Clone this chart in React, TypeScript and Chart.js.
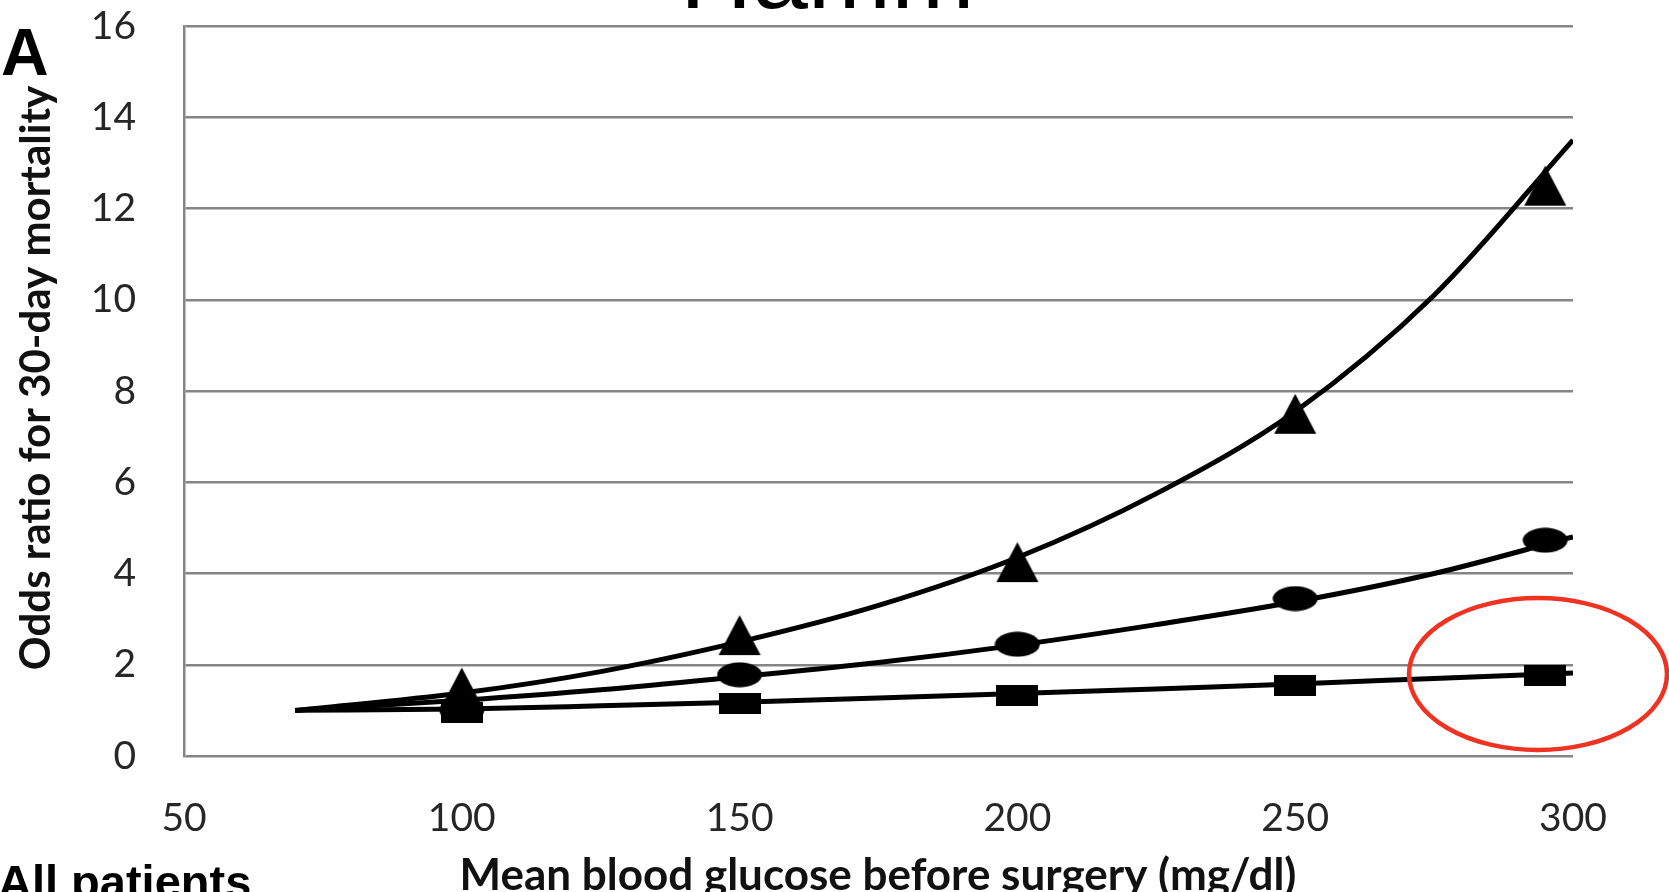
import React, { useEffect, useRef } from 'react';
import { Chart, registerables } from 'chart.js';

Chart.register(...registerables);

// Fitted odds-ratio curves, sampled along blood glucose (mg/dl)
const curveX = [70, 100, 125, 150, 175, 200, 225, 250, 275, 300];
const triangleCurve = [1.0, 1.38, 1.85, 2.5, 3.3, 4.35, 5.75, 7.55, 10.1, 13.5];
const circleCurve = [1.0, 1.22, 1.45, 1.74, 2.05, 2.43, 2.88, 3.38, 4.0, 4.8];
const squareCurve = [1.0, 1.03, 1.1, 1.18, 1.27, 1.37, 1.47, 1.58, 1.7, 1.82];

// Observed odds ratios at each glucose level
const markerX = [100, 150, 200, 250, 295];
const triangleMarks = [1.5, 2.65, 4.25, 7.5, 12.5];
const circleMarks = [1.0, 1.78, 2.45, 3.45, 4.73];
const squareMarks = [0.95, 1.15, 1.33, 1.55, 1.77];

const xTickValues = [50, 100, 150, 200, 250, 300];
const yTickValues = [0, 2, 4, 6, 8, 10, 12, 14, 16];

const yTitle = 'Odds ratio for 30-day mortality';
const xTitle = 'Mean blood glucose before surgery (mg/dl)';
const panelLabel = 'A';
const groupLabel = 'All patients';
const headerText = 'Hamm';

const W = 1669;
const H = 892;
const AREA_LEFT = 184;
const AREA_RIGHT = 1573;
const AREA_TOP = 26;
const AREA_BOTTOM = 756;

function makeMarker(kind: 'triangle' | 'ellipse' | 'rect'): HTMLCanvasElement {
  const c = document.createElement('canvas');
  const dims = { triangle: [44, 42], ellipse: [46, 26], rect: [42, 21] }[kind];
  c.width = dims[0];
  c.height = dims[1];
  const g = c.getContext('2d')!;
  g.fillStyle = '#000';
  g.beginPath();
  if (kind === 'triangle') {
    g.moveTo(dims[0] / 2, 1);
    g.lineTo(dims[0] - 1, dims[1] - 1);
    g.lineTo(1, dims[1] - 1);
    g.closePath();
  } else if (kind === 'ellipse') {
    g.ellipse(dims[0] / 2, dims[1] / 2, dims[0] / 2 - 0.5, dims[1] / 2 - 0.5, 0, 0, Math.PI * 2);
  } else {
    g.rect(0, 0, dims[0], dims[1]);
  }
  g.fill();
  return c;
}

const annotations = {
  id: 'annotations',
  afterDraw(chart: any) {
    const ctx = chart.ctx as CanvasRenderingContext2D;
    ctx.save();
    ctx.fillStyle = '#000';

    // panel letter
    ctx.font = 'bold 66px "Liberation Sans", Arial, sans-serif';
    ctx.textAlign = 'left';
    ctx.textBaseline = 'alphabetic';
    ctx.fillText(panelLabel, 1, 75);

    // heading running off the top edge
    ctx.font = '100px "Liberation Sans", Arial, sans-serif';
    ctx.fillText(headerText, 680, 8);

    // group caption running off the bottom edge
    ctx.font = 'bold 47px "Liberation Sans", Arial, sans-serif';
    ctx.fillText(groupLabel, -2, 898);

    // axis titles
    ctx.fillStyle = '#111';
    ctx.textAlign = 'center';
    ctx.textBaseline = 'middle';
    ctx.font = 'bold 44px Lato, "Open Sans", sans-serif';
    ctx.fillText(xTitle, 878, 876);

    ctx.save();
    ctx.font = 'bold 42px Lato, "Open Sans", sans-serif';
    ctx.translate(36, 378);
    ctx.rotate(-Math.PI / 2);
    ctx.fillText(yTitle, 0, 0);
    ctx.restore();

    // highlight ring around the last square marker
    ctx.strokeStyle = '#ee3322';
    ctx.lineWidth = 4.5;
    ctx.beginPath();
    ctx.ellipse(1538, 674, 129, 76, 0, 0, Math.PI * 2);
    ctx.stroke();

    ctx.restore();
  },
};

export default function App() {
  const ref = useRef<HTMLCanvasElement | null>(null);

  useEffect(() => {
    if (!ref.current) return;
    const tri = makeMarker('triangle');
    const ell = makeMarker('ellipse');
    const sq = makeMarker('rect');

    const toPoints = (xs: number[], ys: number[]) => xs.map((x, i) => ({ x, y: ys[i] }));

    const curve = (ys: number[]) => ({
      data: toPoints(curveX, ys),
      showLine: true,
      borderColor: '#000',
      borderWidth: 5,
      pointRadius: 0,
      tension: 0.4,
      cubicInterpolationMode: 'monotone' as const,
      fill: false,
      order: 5,
    });

    const marks = (ys: number[], style: HTMLCanvasElement, order: number) => ({
      data: toPoints(markerX, ys),
      showLine: false,
      pointStyle: style,
      pointRadius: 12,
      backgroundColor: '#000',
      borderColor: '#000',
      order,
    });

    const chart = new Chart(ref.current, {
      type: 'scatter',
      data: {
        datasets: [
          curve(triangleCurve),
          curve(circleCurve),
          curve(squareCurve),
          marks(circleMarks, ell, 3),
          marks(triangleMarks, tri, 2),
          marks(squareMarks, sq, 1),
        ] as any,
      },
      options: {
        animation: false,
        responsive: false,
        maintainAspectRatio: false,
        devicePixelRatio: 1,
        layout: { padding: { left: 0, right: W - AREA_RIGHT, top: AREA_TOP, bottom: 0 } },
        plugins: {
          legend: { display: false },
          tooltip: { enabled: false },
        },
        scales: {
          x: {
            type: 'linear',
            min: 50,
            max: 300,
            afterFit: (s: any) => {
              s.height = H - AREA_BOTTOM;
              s.paddingLeft = 0;
              s.paddingRight = 0;
            },
            afterBuildTicks: (s: any) => {
              s.ticks = xTickValues.map((v) => ({ value: v }));
            },
            grid: { display: false, drawTicks: false },
            border: { display: false },
            ticks: {
              padding: 39,
              color: '#262626',
              font: { family: 'Lato, "Open Sans", sans-serif', size: 39 },
            },
          },
          y: {
            type: 'linear',
            min: 0,
            max: 16,
            afterFit: (s: any) => {
              s.width = AREA_LEFT;
              s.paddingTop = 0;
              s.paddingBottom = 0;
            },
            afterBuildTicks: (s: any) => {
              s.ticks = yTickValues.map((v) => ({ value: v }));
            },
            grid: { color: '#858585', lineWidth: 2.5, drawTicks: false },
            border: { display: true, color: '#858585', width: 2.5 },
            ticks: {
              padding: 48,
              color: '#262626',
              font: { family: 'Lato, "Open Sans", sans-serif', size: 39 },
            },
          },
        },
      },
      plugins: [annotations],
    });

    return () => chart.destroy();
  }, []);

  return (
    <div style={{ position: 'fixed', left: 0, top: 0, width: W, height: H, background: '#fff' }}>
      <canvas ref={ref} width={W} height={H} style={{ display: 'block', width: W, height: H }} />
    </div>
  );
}
